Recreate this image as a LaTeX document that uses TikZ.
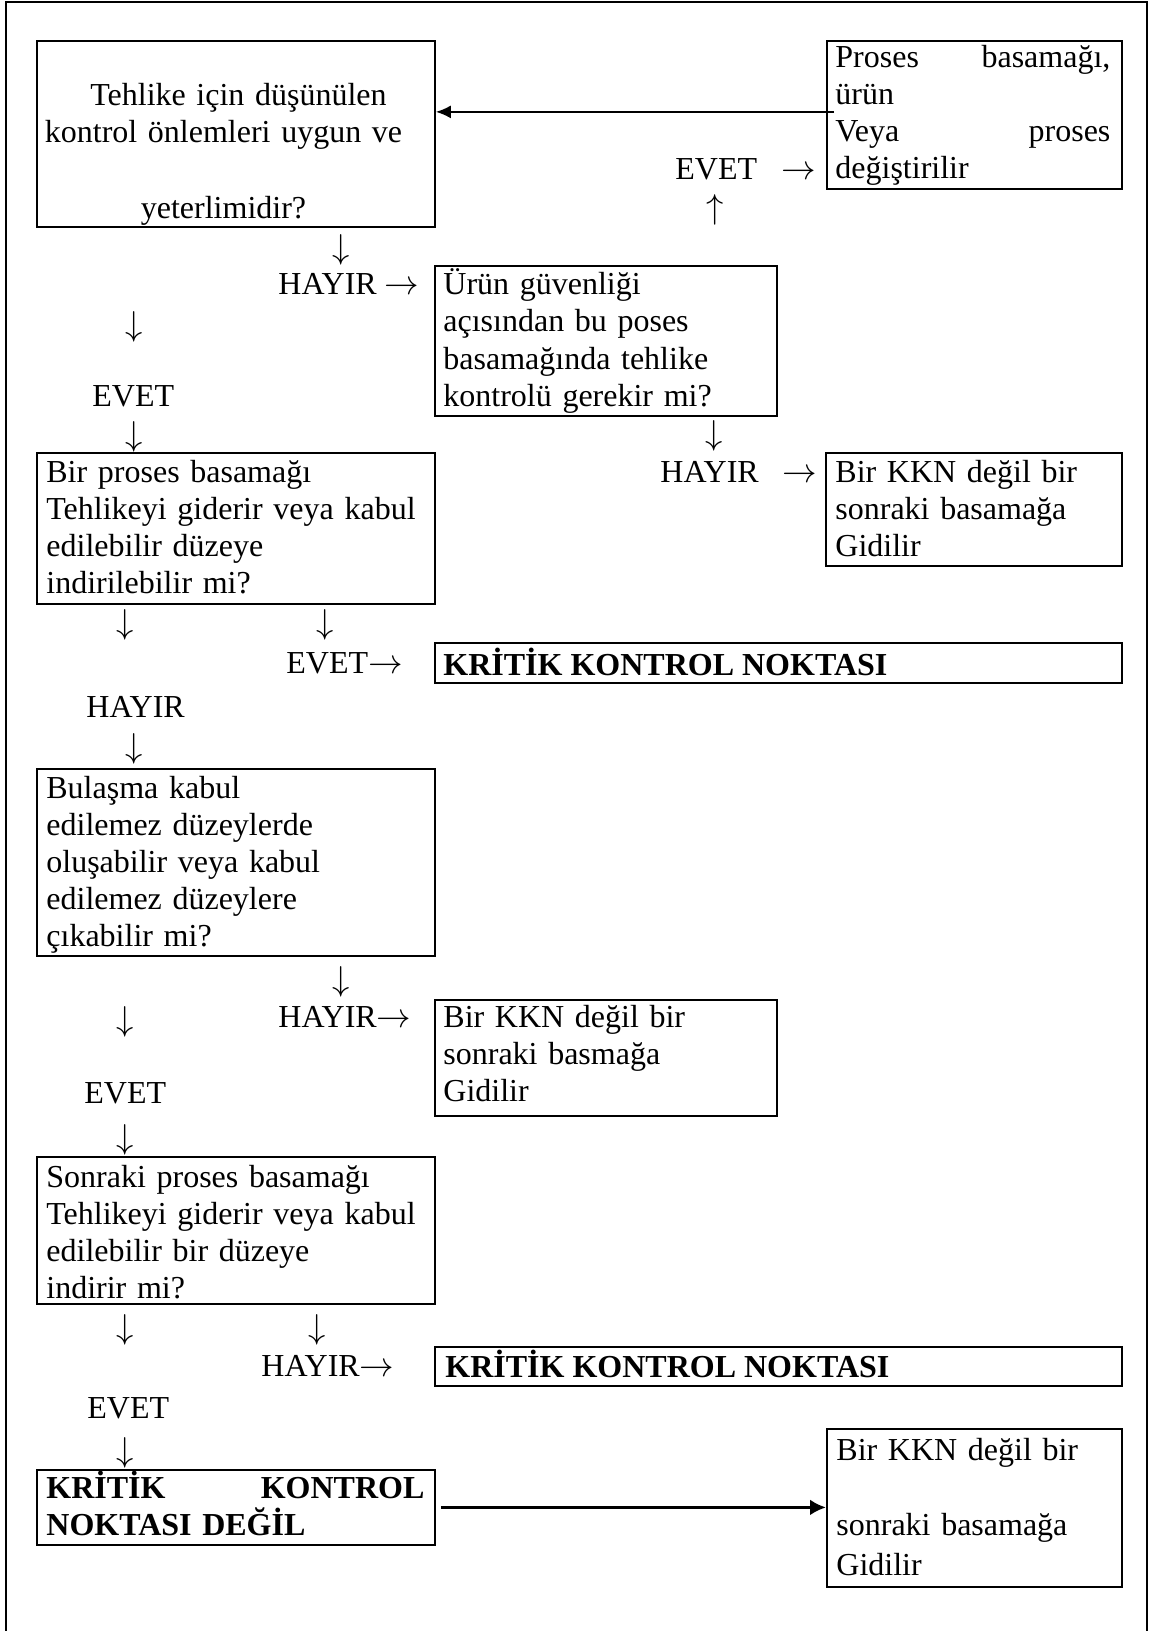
\documentclass[tikz,border=0pt]{standalone}
\usepackage{fontspec}
\setmainfont{Liberation Serif}
\usetikzlibrary{arrows.meta}
\begin{document}
\begin{tikzpicture}[x=0.5pt,y=-0.5pt,
  box/.style={draw, line width=0.9pt, inner sep=0pt, anchor=north west},
  txt/.style={inner sep=0pt, anchor=base west, align=left,
    font=\fontsize{16}{18.5}\selectfont},
  boldtxt/.style={txt, font=\fontsize{16}{18.5}\selectfont\bfseries},
  glyph/.style={inner sep=0pt, font=\fontsize{16}{18.5}\selectfont},
  link/.style={line width=1pt, -{Latex[length=7.5pt,width=6.5pt]}},
  biglink/.style={line width=1.8pt, -{Latex[length=8pt,width=8pt]}}
]
\useasboundingbox (0,0) rectangle (1152,1631);

% outer frame (open at the bottom)
\draw[line width=1pt] (5.5,1650) -- (5.5,2) -- (1147,2) -- (1147,1650);

% ---------- boxes ----------
\node[box, minimum width=199pt,   minimum height=93pt]   (b1)     at (36,40)    {};
\node[box, minimum width=147.5pt, minimum height=74pt]   (proses) at (826,40)   {};
\node[box, minimum width=171pt,   minimum height=75pt]   (b2)     at (434,265)  {};
\node[box, minimum width=199pt,   minimum height=75.5pt] (b3)     at (36,452)   {};
\node[box, minimum width=148pt,   minimum height=56.5pt] (b4)     at (825,452)  {};
\node[box, minimum width=343.5pt, minimum height=20pt]   (kkn1)   at (434,642)  {};
\node[box, minimum width=199pt,   minimum height=93.5pt] (b5)     at (36,768)   {};
\node[box, minimum width=171pt,   minimum height=58pt]   (b6)     at (434,999)  {};
\node[box, minimum width=199pt,   minimum height=73.5pt] (b7)     at (36,1156)  {};
\node[box, minimum width=343.5pt, minimum height=19.5pt] (kkn2)   at (434,1346) {};
\node[box, minimum width=199pt,   minimum height=37.5pt] (b8)     at (36,1469)  {};
\node[box, minimum width=147.5pt, minimum height=79pt]   (b9)     at (826,1428) {};

% ---------- box texts ----------
\node[txt, anchor=base, align=center, text width=190pt] (t1) at (223.5,106)
  {\hspace*{15pt}Tehlike için düşünülen\\ kontrol önlemleri uygun ve\\[19.5pt] yeterlimidir?\hspace*{6pt}};
\node[txt, text width=137.5pt] (tproses) at (835,68)
  {\leavevmode\hbox to 137.5pt{Proses\hfill basamağı,}\\ ürün\\
   \leavevmode\hbox to 137.5pt{Veya\hfill proses}\\ değiştirilir};
\node[txt, text width=162pt] (t2) at (443,295)
  {Ürün güvenliği\\ açısından bu poses\\ basamağında tehlike\\ kontrolü gerekir mi?};
\node[txt, text width=190pt] (t3) at (46,482)
  {Bir proses basamağı\\ Tehlikeyi giderir veya kabul\\ edilebilir düzeye\\ indirilebilir mi?};
\node[txt, text width=137.5pt] (t4) at (835,482)
  {Bir KKN değil bir\\ sonraki basamağa\\ Gidilir};
\node[boldtxt] (tk1) at (443,675) {KRİTİK KONTROL NOKTASI};
\node[txt, text width=190pt] (t5) at (46,798)
  {Bulaşma kabul\\ edilemez düzeylerde\\ oluşabilir veya kabul\\ edilemez düzeylere\\ çıkabilir mi?};
\node[txt, text width=162pt] (t6) at (443,1027)
  {Bir KKN değil bir\\ sonraki basmağa\\ Gidilir};
\node[txt, text width=190pt] (t7) at (46,1187)
  {Sonraki proses basamağı\\ Tehlikeyi giderir veya kabul\\ edilebilir bir düzeye\\ indirir mi?};
\node[boldtxt] (tk2) at (445,1377) {KRİTİK KONTROL NOKTASI};
\node[boldtxt, text width=189pt] (t8) at (46,1498)
  {\leavevmode\hbox to 189pt{KRİTİK\hfill KONTROL}\\ NOKTASI DEĞİL};
\node[txt, text width=137.5pt] (t9) at (836,1460)
  {Bir KKN değil bir\\[19pt] sonraki basamağa\\[1.5pt] Gidilir};

% ---------- answer labels ----------
\node[txt] (l1) at (675,180)  {EVET\hspace*{12pt}$\rightarrow$};
\node[txt] (l2) at (278,295)  {HAYIR $\rightarrow$};
\node[txt] (l3) at (92,406)   {EVET};
\node[txt] (l4) at (660,482)  {HAYIR\hspace*{12pt}$\rightarrow$};
\node[txt] (l5) at (286,673)  {EVET$\rightarrow$};
\node[txt] (l6) at (86,717)   {HAYIR};
\node[txt] (l7) at (278,1027) {HAYIR$\rightarrow$};
\node[txt] (l8) at (84,1103)  {EVET};
\node[txt] (l9) at (261,1376) {HAYIR$\rightarrow$};
\node[txt] (l10) at (87,1418) {EVET};

% ---------- arrow glyphs ----------
\node[glyph] (u1)  at (715,210)  {$\uparrow$};
\node[glyph] (d1)  at (341,250)  {$\downarrow$};
\node[glyph] (d2)  at (134,327)  {$\downarrow$};
\node[glyph] (d3)  at (134,437)  {$\downarrow$};
\node[glyph] (d4)  at (714,436)  {$\downarrow$};
\node[glyph] (d5)  at (125,625)  {$\downarrow$};
\node[glyph] (d6)  at (325,625)  {$\downarrow$};
\node[glyph] (d7)  at (134,749)  {$\downarrow$};
\node[glyph] (d8)  at (341,982)  {$\downarrow$};
\node[glyph] (d9)  at (125,1022) {$\downarrow$};
\node[glyph] (d10) at (125,1140) {$\downarrow$};
\node[glyph] (d11) at (125,1330) {$\downarrow$};
\node[glyph] (d12) at (317,1330) {$\downarrow$};
\node[glyph] (d13) at (125,1453) {$\downarrow$};

% ---------- connectors ----------
\coordinate (pstart) at ([shift={(8,-3)}]proses.west);
\draw[link] (pstart) -- (pstart -| b1.east);
\draw[biglink] ([xshift=2.5pt]b8.east) -- (b9.west |- b8.east);
\end{tikzpicture}
\end{document}
